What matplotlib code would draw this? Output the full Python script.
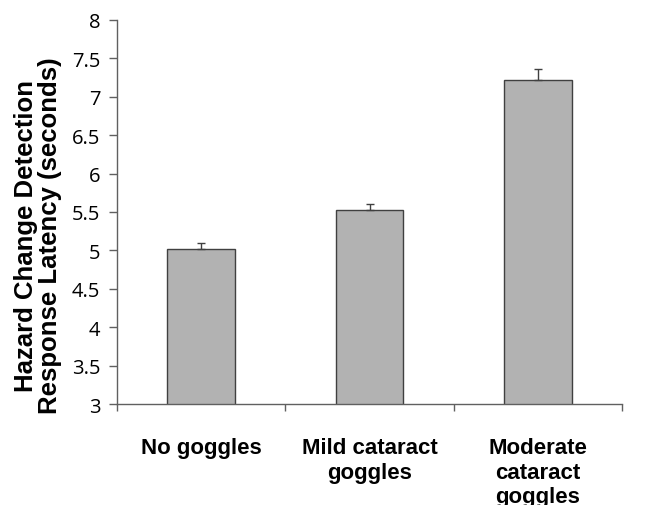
import numpy as np
import matplotlib
matplotlib.use("Agg")
import matplotlib.pyplot as plt

categories = ["No goggles", "Mild cataract\ngoggles", "Moderate\ncataract\ngoggles"]
latency = [5.02, 5.52, 7.22]
sem = [0.08, 0.09, 0.14]
yticks = [3, 3.5, 4, 4.5, 5, 5.5, 6, 6.5, 7, 7.5, 8]

fig = plt.figure(figsize=(6.46, 5.06), dpi=100)
ax = fig.add_axes([0.181, 0.1996, 0.782, 0.759])

x = np.arange(len(categories))
ax.bar(x, latency, width=0.4, color="#b2b2b2", edgecolor="#404040", linewidth=1.0,
       zorder=2)
ax.errorbar(x, latency, yerr=[np.zeros(len(sem)), sem], fmt="none",
            ecolor="#404040", elinewidth=1.0, capsize=3, capthick=1.0, zorder=3)

ax.set_xlim(-0.5, 2.5)
ax.set_ylim(3, 8)
ax.set_yticks(yticks)
ax.set_yticklabels([f"{t:g}" for t in yticks], fontsize=14.5, family="Open Sans")
ax.tick_params(axis="y", direction="out", length=6, width=1, color="#606060", pad=6)

ax.set_xticks(x)
ax.set_xticklabels(categories, fontsize=16, fontweight="bold",
                   family="Liberation Sans", linespacing=1.2)
ax.tick_params(axis="x", which="major", length=0, pad=24)
ax.set_xticks(np.arange(-0.5, 3.0, 1.0), minor=True)
ax.tick_params(axis="x", which="minor", direction="out", length=5, width=1,
               color="#606060")

ax.set_ylabel("Hazard Change Detection\nResponse Latency (seconds)", fontsize=18.5,
              fontweight="bold", family="Liberation Sans", linespacing=1.0)
ax.yaxis.set_label_coords(-0.108, 0.44)

for side in ["top", "right"]:
    ax.spines[side].set_visible(False)
for side in ["left", "bottom"]:
    ax.spines[side].set_color("#606060")
    ax.spines[side].set_linewidth(1)

fig.savefig("out.png", dpi=100)
